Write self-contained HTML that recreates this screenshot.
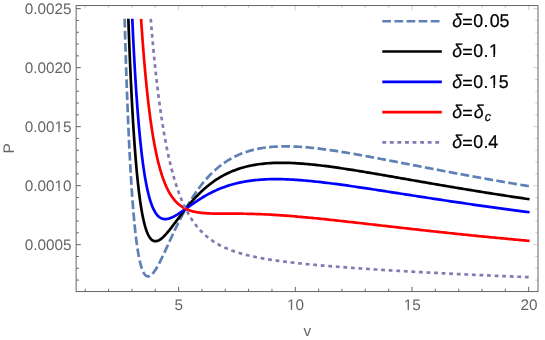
<!DOCTYPE html>
<html><head><meta charset="utf-8"><title>P-v isotherms</title>
<style>html,body{margin:0;padding:0;background:#fff}svg{display:block;will-change:transform}text{font-family:"Liberation Sans",sans-serif;text-rendering:geometricPrecision;font-kerning:none}</style></head><body>
<svg width="545" height="340" viewBox="0 0 545 340">
<rect width="545" height="340" fill="#fff"/>
<path d="M124.64,18.80 L124.94,29.37 L125.24,39.56 L125.54,49.40 L125.83,58.88 L126.13,68.03 L126.43,76.85 L126.73,85.35 L127.03,93.55 L127.33,101.46 L127.62,109.07 L127.92,116.42 L128.22,123.50 L128.52,130.31 L128.82,136.88 L129.12,143.21 L129.42,149.31 L129.71,155.18 L130.01,160.83 L130.31,166.27 L130.61,171.51 L130.91,176.55 L131.21,181.39 L131.50,186.06 L131.80,190.54 L132.10,194.85 L132.40,199.00 L132.70,202.98 L133.00,206.80 L133.29,210.48 L133.59,214.00 L133.89,217.39 L134.19,220.63 L134.49,223.74 L134.79,226.73 L135.09,229.59 L135.38,232.33 L135.68,234.95 L135.98,237.46 L136.28,239.86 L136.58,242.15 L136.88,244.34 L137.17,246.43 L137.47,248.43 L137.77,250.33 L138.07,252.14 L138.37,253.87 L138.67,255.51 L138.97,257.07 L139.26,258.55 L139.56,259.95 L139.86,261.28 L140.16,262.54 L140.46,263.73 L140.76,264.85 L141.05,265.90 L141.35,266.90 L141.65,267.83 L141.95,268.71 L142.25,269.52 L142.55,270.29 L142.85,270.99 L143.14,271.65 L143.44,272.26 L143.74,272.82 L144.04,273.33 L144.34,273.80 L144.64,274.22 L144.93,274.60 L145.23,274.94 L145.53,275.25 L145.83,275.51 L146.13,275.74 L146.43,275.93 L146.73,276.08 L147.02,276.21 L147.32,276.30 L147.62,276.36 L147.92,276.39 L148.22,276.39 L148.52,276.36 L148.81,276.31 L149.11,276.23 L149.41,276.12 L149.71,275.99 L150.01,275.84 L150.31,275.66 L150.61,275.47 L150.90,275.25 L151.20,275.01 L151.50,274.75 L151.80,274.47 L152.10,274.18 L152.40,273.87 L152.69,273.54 L152.99,273.19 L153.29,272.83 L153.59,272.45 L153.89,272.06 L154.19,271.66 L154.49,271.24 L154.78,270.81 L155.08,270.37 L155.38,269.91 L155.68,269.45 L155.98,268.97 L156.28,268.48 L156.57,267.99 L156.87,267.48 L157.17,266.97 L157.47,266.44 L157.77,265.91 L158.07,265.37 L158.37,264.82 L158.66,264.27 L158.96,263.70 L159.26,263.13 L159.56,262.56 L159.86,261.98 L160.16,261.39 L160.45,260.80 L160.75,260.20 L161.05,259.60 L161.35,259.00 L161.65,258.39 L161.95,257.77 L162.25,257.15 L162.54,256.53 L162.84,255.91 L163.14,255.28 L163.44,254.65 L163.74,254.02 L164.04,253.38 L164.33,252.75 L164.63,252.11 L164.93,251.46 L165.23,250.82 L165.53,250.18 L165.83,249.53 L166.13,248.88 L166.42,248.24 L166.72,247.59 L167.02,246.94 L167.32,246.29 L167.62,245.64 L167.92,244.99 L168.21,244.34 L168.51,243.69 L168.81,243.03 L169.11,242.38 L169.41,241.73 L169.71,241.08 L170.01,240.44 L170.30,239.79 L170.60,239.14 L170.90,238.49 L171.20,237.85 L171.50,237.20 L171.80,236.56 L172.09,235.92 L172.39,235.27 L172.69,234.63 L172.99,234.00 L173.29,233.36 L173.59,232.72 L173.89,232.09 L174.18,231.46 L174.48,230.83 L174.78,230.20 L175.08,229.57 L175.38,228.95 L175.68,228.33 L175.97,227.71 L176.27,227.09 L176.57,226.47 L176.87,225.86 L177.17,225.25 L177.47,224.64 L177.77,224.03 L178.06,223.43 L178.36,222.82 L178.66,222.23 L178.96,221.63 L179.26,221.03 L179.56,220.44 L179.85,219.85 L180.15,219.26 L180.45,218.68 L180.75,218.10 L181.05,217.52 L181.35,216.94 L181.64,216.37 L181.94,215.80 L182.24,215.23 L182.54,214.67 L182.84,214.10 L183.14,213.54 L183.44,212.99 L183.73,212.43 L184.03,211.88 L184.33,211.33 L184.63,210.79 L184.93,210.25 L185.23,209.71 L185.52,209.17 L185.82,208.64 L186.12,208.10 L186.42,207.58 L186.72,207.05 L187.02,206.53 L187.32,206.01 L187.61,205.50 L187.91,204.98 L188.21,204.47 L188.51,203.97 L188.81,203.46 L189.11,202.96 L189.40,202.46 L189.70,201.97 L190.00,201.48 L190.30,200.99 L190.60,200.50 L190.90,200.02 L191.20,199.54 L191.49,199.06 L191.79,198.59 L192.09,198.11 L192.39,197.65 L192.69,197.18 L192.99,196.72 L193.28,196.26 L193.58,195.80 L193.88,195.35 L194.18,194.90 L194.48,194.45 L194.78,194.01 L195.08,193.56 L195.37,193.13 L195.67,192.69 L195.97,192.26 L196.27,191.83 L196.57,191.40 L196.87,190.98 L197.16,190.55 L197.46,190.14 L197.76,189.72 L198.06,189.31 L198.36,188.90 L198.66,188.49 L198.96,188.08 L199.25,187.68 L199.55,187.28 L199.85,186.89 L200.15,186.49 L200.45,186.10 L200.75,185.72 L201.04,185.33 L201.34,184.95 L201.64,184.57 L201.94,184.19 L203.77,181.94 L205.60,179.79 L207.43,177.73 L209.26,175.77 L211.09,173.90 L212.92,172.11 L214.75,170.41 L216.58,168.80 L218.42,167.26 L220.25,165.80 L222.08,164.42 L223.91,163.10 L225.74,161.86 L227.57,160.68 L229.40,159.57 L231.23,158.51 L233.06,157.52 L234.89,156.58 L236.72,155.70 L238.55,154.87 L240.38,154.09 L242.21,153.36 L244.04,152.68 L245.87,152.04 L247.70,151.44 L249.53,150.89 L251.37,150.37 L253.20,149.89 L255.03,149.45 L256.86,149.05 L258.69,148.68 L260.52,148.34 L262.35,148.03 L264.18,147.75 L266.01,147.50 L267.84,147.28 L269.67,147.08 L271.50,146.91 L273.33,146.76 L275.16,146.64 L276.99,146.54 L278.82,146.46 L280.65,146.40 L282.48,146.36 L284.32,146.34 L286.15,146.33 L287.98,146.35 L289.81,146.38 L291.64,146.42 L293.47,146.48 L295.30,146.56 L297.13,146.65 L298.96,146.75 L300.79,146.87 L302.62,147.00 L304.45,147.14 L306.28,147.29 L308.11,147.45 L309.94,147.62 L311.77,147.81 L313.60,148.00 L315.43,148.20 L317.27,148.41 L319.10,148.63 L320.93,148.85 L322.76,149.08 L324.59,149.32 L326.42,149.57 L328.25,149.82 L330.08,150.08 L331.91,150.35 L333.74,150.62 L335.57,150.90 L337.40,151.18 L339.23,151.47 L341.06,151.76 L342.89,152.05 L344.72,152.35 L346.55,152.66 L348.38,152.96 L350.22,153.27 L352.05,153.59 L353.88,153.91 L355.71,154.23 L357.54,154.55 L359.37,154.88 L361.20,155.21 L363.03,155.54 L364.86,155.87 L366.69,156.21 L368.52,156.55 L370.35,156.89 L372.18,157.23 L374.01,157.57 L375.84,157.91 L377.67,158.26 L379.50,158.61 L381.33,158.96 L383.17,159.30 L385.00,159.66 L386.83,160.01 L388.66,160.36 L390.49,160.71 L392.32,161.06 L394.15,161.42 L395.98,161.77 L397.81,162.13 L399.64,162.48 L401.47,162.84 L403.30,163.20 L405.13,163.55 L406.96,163.91 L408.79,164.26 L410.62,164.62 L412.45,164.98 L414.28,165.33 L416.12,165.69 L417.95,166.04 L419.78,166.40 L421.61,166.75 L423.44,167.11 L425.27,167.46 L427.10,167.82 L428.93,168.17 L430.76,168.52 L432.59,168.87 L434.42,169.23 L436.25,169.58 L438.08,169.93 L439.91,170.28 L441.74,170.63 L443.57,170.98 L445.40,171.32 L447.24,171.67 L449.07,172.02 L450.90,172.36 L452.73,172.71 L454.56,173.05 L456.39,173.40 L458.22,173.74 L460.05,174.08 L461.88,174.42 L463.71,174.76 L465.54,175.10 L467.37,175.44 L469.20,175.77 L471.03,176.11 L472.86,176.44 L474.69,176.78 L476.52,177.11 L478.35,177.44 L480.19,177.77 L482.02,178.10 L483.85,178.43 L485.68,178.76 L487.51,179.08 L489.34,179.41 L491.17,179.73 L493.00,180.06 L494.83,180.38 L496.66,180.70 L498.49,181.02 L500.32,181.34 L502.15,181.66 L503.98,181.97 L505.81,182.29 L507.64,182.60 L509.47,182.92 L511.30,183.23 L513.14,183.54 L514.97,183.85 L516.80,184.16 L518.63,184.46 L520.46,184.77 L522.29,185.08 L524.12,185.38 L525.95,185.68 L527.78,185.98 L529.61,186.29" fill="none" stroke="#5E81B5" stroke-width="2.7" stroke-linejoin="round" stroke-dasharray="8.71 3.405"/>
<path d="M128.34,18.80 L128.62,26.64 L128.91,34.24 L129.19,41.61 L129.48,48.74 L129.76,55.66 L130.04,62.35 L130.33,68.84 L130.61,75.12 L130.90,81.21 L131.18,87.10 L131.46,92.81 L131.75,98.34 L132.03,103.70 L132.32,108.88 L132.60,113.90 L132.89,118.76 L133.17,123.47 L133.45,128.02 L133.74,132.43 L134.02,136.70 L134.31,140.83 L134.59,144.82 L134.87,148.69 L135.16,152.43 L135.44,156.05 L135.73,159.54 L136.01,162.93 L136.30,166.20 L136.58,169.36 L136.86,172.42 L137.15,175.37 L137.43,178.22 L137.72,180.98 L138.00,183.64 L138.28,186.21 L138.57,188.70 L138.85,191.09 L139.14,193.41 L139.42,195.64 L139.71,197.79 L139.99,199.87 L140.27,201.87 L140.56,203.80 L140.84,205.66 L141.13,207.45 L141.41,209.17 L141.69,210.83 L141.98,212.43 L142.26,213.96 L142.55,215.44 L142.83,216.86 L143.12,218.22 L143.40,219.53 L143.68,220.79 L143.97,221.99 L144.25,223.15 L144.54,224.25 L144.82,225.31 L145.11,226.33 L145.39,227.30 L145.67,228.23 L145.96,229.11 L146.24,229.96 L146.53,230.76 L146.81,231.53 L147.09,232.26 L147.38,232.95 L147.66,233.61 L147.95,234.23 L148.23,234.82 L148.52,235.38 L148.80,235.91 L149.08,236.41 L149.37,236.88 L149.65,237.32 L149.94,237.73 L150.22,238.11 L150.50,238.47 L150.79,238.80 L151.07,239.11 L151.36,239.40 L151.64,239.66 L151.93,239.90 L152.21,240.11 L152.49,240.31 L152.78,240.48 L153.06,240.64 L153.35,240.77 L153.63,240.89 L153.91,240.99 L154.20,241.07 L154.48,241.13 L154.77,241.18 L155.05,241.21 L155.34,241.22 L155.62,241.22 L155.90,241.21 L156.19,241.18 L156.47,241.14 L156.76,241.08 L157.04,241.01 L157.32,240.93 L157.61,240.84 L157.89,240.73 L158.18,240.61 L158.46,240.49 L158.75,240.35 L159.03,240.20 L159.31,240.04 L159.60,239.87 L159.88,239.69 L160.17,239.50 L160.45,239.31 L160.73,239.11 L161.02,238.89 L161.30,238.67 L161.59,238.44 L161.87,238.21 L162.16,237.97 L162.44,237.72 L162.72,237.46 L163.01,237.20 L163.29,236.93 L163.58,236.66 L163.86,236.38 L164.14,236.10 L164.43,235.81 L164.71,235.51 L165.00,235.21 L165.28,234.91 L165.57,234.60 L165.85,234.29 L166.13,233.97 L166.42,233.65 L166.70,233.32 L166.99,232.99 L167.27,232.66 L167.55,232.33 L167.84,231.99 L168.12,231.65 L168.41,231.30 L168.69,230.96 L168.98,230.61 L169.26,230.26 L169.54,229.90 L169.83,229.55 L170.11,229.19 L170.40,228.83 L170.68,228.47 L170.96,228.10 L171.25,227.74 L171.53,227.37 L171.82,227.00 L172.10,226.63 L172.39,226.26 L172.67,225.89 L172.95,225.52 L173.24,225.14 L173.52,224.77 L173.81,224.40 L174.09,224.02 L174.38,223.64 L174.66,223.27 L174.94,222.89 L175.23,222.51 L175.51,222.13 L175.80,221.76 L176.08,221.38 L176.36,221.00 L176.65,220.62 L176.93,220.24 L177.22,219.86 L177.50,219.49 L177.79,219.11 L178.07,218.73 L178.35,218.35 L178.64,217.98 L178.92,217.60 L179.21,217.22 L179.49,216.85 L179.77,216.47 L180.06,216.10 L180.34,215.72 L180.63,215.35 L180.91,214.98 L181.20,214.61 L181.48,214.24 L181.76,213.87 L182.05,213.50 L182.33,213.13 L182.62,212.76 L182.90,212.39 L183.18,212.03 L183.47,211.67 L183.75,211.30 L184.04,210.94 L184.32,210.58 L184.61,210.22 L184.89,209.86 L185.17,209.50 L185.46,209.15 L185.74,208.79 L186.03,208.44 L186.31,208.08 L186.59,207.73 L186.88,207.38 L187.16,207.04 L187.45,206.69 L187.73,206.34 L188.02,206.00 L188.30,205.65 L188.58,205.31 L188.87,204.97 L189.15,204.63 L189.44,204.30 L189.72,203.96 L190.00,203.63 L190.29,203.29 L190.57,202.96 L190.86,202.63 L191.14,202.30 L191.43,201.98 L191.71,201.65 L191.99,201.33 L192.28,201.01 L192.56,200.69 L192.85,200.37 L193.13,200.05 L193.41,199.73 L193.70,199.42 L193.98,199.11 L194.27,198.80 L194.55,198.49 L194.84,198.18 L195.12,197.87 L195.40,197.57 L195.69,197.27 L195.97,196.97 L196.26,196.67 L196.54,196.37 L196.82,196.07 L197.11,195.78 L197.39,195.49 L197.68,195.19 L197.96,194.90 L198.25,194.62 L198.53,194.33 L198.81,194.05 L199.10,193.76 L199.38,193.48 L199.67,193.20 L199.95,192.92 L200.23,192.65 L200.52,192.37 L200.80,192.10 L201.09,191.83 L201.37,191.56 L201.66,191.29 L201.94,191.03 L203.77,189.35 L205.60,187.74 L207.43,186.20 L209.26,184.73 L211.09,183.31 L212.92,181.97 L214.75,180.68 L216.58,179.46 L218.42,178.29 L220.25,177.18 L222.08,176.12 L223.91,175.12 L225.74,174.18 L227.57,173.28 L229.40,172.43 L231.23,171.63 L233.06,170.87 L234.89,170.16 L236.72,169.49 L238.55,168.86 L240.38,168.27 L242.21,167.72 L244.04,167.20 L245.87,166.72 L247.70,166.27 L249.53,165.86 L251.37,165.48 L253.20,165.13 L255.03,164.81 L256.86,164.51 L258.69,164.24 L260.52,164.00 L262.35,163.79 L264.18,163.59 L266.01,163.42 L267.84,163.27 L269.67,163.15 L271.50,163.04 L273.33,162.95 L275.16,162.89 L276.99,162.84 L278.82,162.80 L280.65,162.79 L282.48,162.79 L284.32,162.80 L286.15,162.83 L287.98,162.88 L289.81,162.93 L291.64,163.00 L293.47,163.09 L295.30,163.18 L297.13,163.29 L298.96,163.40 L300.79,163.53 L302.62,163.67 L304.45,163.81 L306.28,163.97 L308.11,164.13 L309.94,164.31 L311.77,164.49 L313.60,164.68 L315.43,164.87 L317.27,165.07 L319.10,165.28 L320.93,165.50 L322.76,165.72 L324.59,165.95 L326.42,166.18 L328.25,166.42 L330.08,166.67 L331.91,166.92 L333.74,167.17 L335.57,167.43 L337.40,167.69 L339.23,167.96 L341.06,168.23 L342.89,168.50 L344.72,168.78 L346.55,169.06 L348.38,169.34 L350.22,169.62 L352.05,169.91 L353.88,170.20 L355.71,170.50 L357.54,170.79 L359.37,171.09 L361.20,171.39 L363.03,171.69 L364.86,172.00 L366.69,172.30 L368.52,172.61 L370.35,172.92 L372.18,173.23 L374.01,173.54 L375.84,173.85 L377.67,174.17 L379.50,174.48 L381.33,174.79 L383.17,175.11 L385.00,175.43 L386.83,175.74 L388.66,176.06 L390.49,176.38 L392.32,176.70 L394.15,177.02 L395.98,177.34 L397.81,177.66 L399.64,177.98 L401.47,178.30 L403.30,178.62 L405.13,178.94 L406.96,179.26 L408.79,179.58 L410.62,179.90 L412.45,180.22 L414.28,180.54 L416.12,180.86 L417.95,181.18 L419.78,181.50 L421.61,181.82 L423.44,182.13 L425.27,182.45 L427.10,182.77 L428.93,183.09 L430.76,183.40 L432.59,183.72 L434.42,184.03 L436.25,184.35 L438.08,184.66 L439.91,184.98 L441.74,185.29 L443.57,185.60 L445.40,185.91 L447.24,186.22 L449.07,186.53 L450.90,186.84 L452.73,187.15 L454.56,187.46 L456.39,187.77 L458.22,188.07 L460.05,188.38 L461.88,188.68 L463.71,188.99 L465.54,189.29 L467.37,189.59 L469.20,189.89 L471.03,190.19 L472.86,190.49 L474.69,190.79 L476.52,191.09 L478.35,191.38 L480.19,191.68 L482.02,191.97 L483.85,192.26 L485.68,192.56 L487.51,192.85 L489.34,193.14 L491.17,193.43 L493.00,193.72 L494.83,194.00 L496.66,194.29 L498.49,194.58 L500.32,194.86 L502.15,195.14 L503.98,195.43 L505.81,195.71 L507.64,195.99 L509.47,196.27 L511.30,196.55 L513.14,196.82 L514.97,197.10 L516.80,197.38 L518.63,197.65 L520.46,197.92 L522.29,198.20 L524.12,198.47 L525.95,198.74 L527.78,199.01 L529.61,199.27" fill="none" stroke="#000000" stroke-width="2.7" stroke-linejoin="round"/>
<path d="M132.27,18.80 L132.54,24.71 L132.81,30.45 L133.07,36.05 L133.34,41.49 L133.61,46.79 L133.88,51.94 L134.15,56.96 L134.42,61.84 L134.69,66.59 L134.96,71.21 L135.23,75.71 L135.50,80.09 L135.77,84.35 L136.03,88.49 L136.30,92.52 L136.57,96.44 L136.84,100.26 L137.11,103.97 L137.38,107.58 L137.65,111.10 L137.92,114.52 L138.19,117.84 L138.46,121.07 L138.72,124.22 L138.99,127.28 L139.26,130.26 L139.53,133.15 L139.80,135.96 L140.07,138.70 L140.34,141.36 L140.61,143.95 L140.88,146.46 L141.15,148.91 L141.41,151.29 L141.68,153.60 L141.95,155.84 L142.22,158.03 L142.49,160.15 L142.76,162.21 L143.03,164.21 L143.30,166.16 L143.57,168.05 L143.84,169.88 L144.10,171.66 L144.37,173.39 L144.64,175.07 L144.91,176.71 L145.18,178.29 L145.45,179.83 L145.72,181.32 L145.99,182.77 L146.26,184.17 L146.53,185.54 L146.79,186.86 L147.06,188.14 L147.33,189.38 L147.60,190.59 L147.87,191.75 L148.14,192.88 L148.41,193.98 L148.68,195.04 L148.95,196.07 L149.22,197.06 L149.48,198.03 L149.75,198.96 L150.02,199.86 L150.29,200.74 L150.56,201.58 L150.83,202.39 L151.10,203.18 L151.37,203.94 L151.64,204.68 L151.91,205.39 L152.17,206.07 L152.44,206.73 L152.71,207.37 L152.98,207.99 L153.25,208.58 L153.52,209.15 L153.79,209.70 L154.06,210.23 L154.33,210.73 L154.60,211.22 L154.86,211.69 L155.13,212.14 L155.40,212.57 L155.67,212.99 L155.94,213.38 L156.21,213.76 L156.48,214.12 L156.75,214.47 L157.02,214.80 L157.29,215.12 L157.55,215.42 L157.82,215.71 L158.09,215.98 L158.36,216.24 L158.63,216.48 L158.90,216.71 L159.17,216.93 L159.44,217.14 L159.71,217.33 L159.98,217.52 L160.24,217.69 L160.51,217.85 L160.78,218.00 L161.05,218.13 L161.32,218.26 L161.59,218.38 L161.86,218.49 L162.13,218.59 L162.40,218.67 L162.67,218.75 L162.93,218.83 L163.20,218.89 L163.47,218.94 L163.74,218.99 L164.01,219.03 L164.28,219.06 L164.55,219.08 L164.82,219.09 L165.09,219.10 L165.36,219.10 L165.62,219.10 L165.89,219.09 L166.16,219.07 L166.43,219.04 L166.70,219.01 L166.97,218.98 L167.24,218.94 L167.51,218.89 L167.78,218.84 L168.05,218.78 L168.31,218.71 L168.58,218.65 L168.85,218.57 L169.12,218.50 L169.39,218.41 L169.66,218.33 L169.93,218.24 L170.20,218.14 L170.47,218.04 L170.74,217.94 L171.00,217.84 L171.27,217.73 L171.54,217.61 L171.81,217.50 L172.08,217.38 L172.35,217.25 L172.62,217.13 L172.89,217.00 L173.16,216.86 L173.43,216.73 L173.69,216.59 L173.96,216.45 L174.23,216.31 L174.50,216.16 L174.77,216.02 L175.04,215.87 L175.31,215.71 L175.58,215.56 L175.85,215.40 L176.12,215.25 L176.38,215.09 L176.65,214.92 L176.92,214.76 L177.19,214.59 L177.46,214.43 L177.73,214.26 L178.00,214.09 L178.27,213.92 L178.54,213.74 L178.81,213.57 L179.07,213.40 L179.34,213.22 L179.61,213.04 L179.88,212.86 L180.15,212.68 L180.42,212.50 L180.69,212.32 L180.96,212.14 L181.23,211.96 L181.50,211.77 L181.76,211.59 L182.03,211.40 L182.30,211.22 L182.57,211.03 L182.84,210.84 L183.11,210.66 L183.38,210.47 L183.65,210.28 L183.92,210.09 L184.19,209.90 L184.45,209.71 L184.72,209.52 L184.99,209.33 L185.26,209.14 L185.53,208.95 L185.80,208.76 L186.07,208.57 L186.34,208.38 L186.61,208.19 L186.88,208.00 L187.14,207.81 L187.41,207.62 L187.68,207.42 L187.95,207.23 L188.22,207.04 L188.49,206.85 L188.76,206.66 L189.03,206.47 L189.30,206.28 L189.57,206.09 L189.83,205.90 L190.10,205.71 L190.37,205.52 L190.64,205.33 L190.91,205.15 L191.18,204.96 L191.45,204.77 L191.72,204.58 L191.99,204.40 L192.26,204.21 L192.52,204.02 L192.79,203.84 L193.06,203.65 L193.33,203.47 L193.60,203.28 L193.87,203.10 L194.14,202.91 L194.41,202.73 L194.68,202.55 L194.95,202.37 L195.21,202.18 L195.48,202.00 L195.75,201.82 L196.02,201.64 L196.29,201.47 L196.56,201.29 L196.83,201.11 L197.10,200.93 L197.37,200.76 L197.64,200.58 L197.90,200.40 L198.17,200.23 L198.44,200.06 L198.71,199.88 L198.98,199.71 L199.25,199.54 L199.52,199.37 L199.79,199.20 L200.06,199.03 L200.33,198.86 L200.59,198.69 L200.86,198.52 L201.13,198.35 L201.40,198.19 L201.67,198.02 L201.94,197.86 L203.77,196.76 L205.60,195.70 L207.43,194.67 L209.26,193.68 L211.09,192.73 L212.92,191.82 L214.75,190.95 L216.58,190.11 L218.42,189.32 L220.25,188.56 L222.08,187.83 L223.91,187.14 L225.74,186.49 L227.57,185.87 L229.40,185.29 L231.23,184.74 L233.06,184.22 L234.89,183.73 L236.72,183.27 L238.55,182.84 L240.38,182.44 L242.21,182.07 L244.04,181.72 L245.87,181.40 L247.70,181.11 L249.53,180.84 L251.37,180.59 L253.20,180.36 L255.03,180.16 L256.86,179.97 L258.69,179.81 L260.52,179.67 L262.35,179.54 L264.18,179.43 L266.01,179.35 L267.84,179.27 L269.67,179.22 L271.50,179.17 L273.33,179.15 L275.16,179.13 L276.99,179.14 L278.82,179.15 L280.65,179.18 L282.48,179.22 L284.32,179.27 L286.15,179.33 L287.98,179.41 L289.81,179.49 L291.64,179.58 L293.47,179.69 L295.30,179.80 L297.13,179.92 L298.96,180.05 L300.79,180.19 L302.62,180.33 L304.45,180.49 L306.28,180.65 L308.11,180.81 L309.94,180.99 L311.77,181.17 L313.60,181.35 L315.43,181.54 L317.27,181.74 L319.10,181.94 L320.93,182.15 L322.76,182.36 L324.59,182.58 L326.42,182.80 L328.25,183.02 L330.08,183.25 L331.91,183.48 L333.74,183.72 L335.57,183.96 L337.40,184.20 L339.23,184.45 L341.06,184.69 L342.89,184.95 L344.72,185.20 L346.55,185.46 L348.38,185.71 L350.22,185.97 L352.05,186.24 L353.88,186.50 L355.71,186.77 L357.54,187.04 L359.37,187.31 L361.20,187.58 L363.03,187.85 L364.86,188.12 L366.69,188.40 L368.52,188.67 L370.35,188.95 L372.18,189.23 L374.01,189.51 L375.84,189.79 L377.67,190.07 L379.50,190.35 L381.33,190.63 L383.17,190.92 L385.00,191.20 L386.83,191.48 L388.66,191.77 L390.49,192.05 L392.32,192.33 L394.15,192.62 L395.98,192.90 L397.81,193.19 L399.64,193.47 L401.47,193.76 L403.30,194.04 L405.13,194.33 L406.96,194.61 L408.79,194.90 L410.62,195.18 L412.45,195.46 L414.28,195.75 L416.12,196.03 L417.95,196.31 L419.78,196.60 L421.61,196.88 L423.44,197.16 L425.27,197.44 L427.10,197.72 L428.93,198.00 L430.76,198.28 L432.59,198.56 L434.42,198.84 L436.25,199.12 L438.08,199.40 L439.91,199.67 L441.74,199.95 L443.57,200.23 L445.40,200.50 L447.24,200.78 L449.07,201.05 L450.90,201.32 L452.73,201.59 L454.56,201.87 L456.39,202.14 L458.22,202.41 L460.05,202.68 L461.88,202.94 L463.71,203.21 L465.54,203.48 L467.37,203.74 L469.20,204.01 L471.03,204.27 L472.86,204.54 L474.69,204.80 L476.52,205.06 L478.35,205.32 L480.19,205.58 L482.02,205.84 L483.85,206.10 L485.68,206.36 L487.51,206.61 L489.34,206.87 L491.17,207.12 L493.00,207.38 L494.83,207.63 L496.66,207.88 L498.49,208.13 L500.32,208.38 L502.15,208.63 L503.98,208.88 L505.81,209.13 L507.64,209.38 L509.47,209.62 L511.30,209.87 L513.14,210.11 L514.97,210.35 L516.80,210.60 L518.63,210.84 L520.46,211.08 L522.29,211.32 L524.12,211.55 L525.95,211.79 L527.78,212.03 L529.61,212.26" fill="none" stroke="#0000FF" stroke-width="2.7" stroke-linejoin="round"/>
<path d="M141.09,18.80 L141.32,22.34 L141.56,25.81 L141.79,29.21 L142.03,32.55 L142.26,35.84 L142.50,39.05 L142.73,42.21 L142.97,45.32 L143.20,48.36 L143.44,51.35 L143.67,54.28 L143.91,57.16 L144.14,59.99 L144.38,62.76 L144.61,65.48 L144.85,68.16 L145.08,70.78 L145.32,73.36 L145.55,75.89 L145.79,78.37 L146.02,80.81 L146.26,83.20 L146.49,85.55 L146.73,87.86 L146.96,90.13 L147.20,92.35 L147.43,94.54 L147.67,96.68 L147.90,98.79 L148.14,100.85 L148.37,102.89 L148.61,104.88 L148.84,106.84 L149.08,108.76 L149.31,110.65 L149.55,112.51 L149.78,114.33 L150.02,116.12 L150.25,117.87 L150.49,119.60 L150.72,121.29 L150.96,122.96 L151.19,124.59 L151.42,126.20 L151.66,127.78 L151.89,129.32 L152.13,130.85 L152.36,132.34 L152.60,133.81 L152.83,135.25 L153.07,136.67 L153.30,138.06 L153.54,139.42 L153.77,140.77 L154.01,142.08 L154.24,143.38 L154.48,144.65 L154.71,145.90 L154.95,147.13 L155.18,148.33 L155.42,149.52 L155.65,150.68 L155.89,151.83 L156.12,152.95 L156.36,154.05 L156.59,155.14 L156.83,156.20 L157.06,157.25 L157.30,158.28 L157.53,159.29 L157.77,160.28 L158.00,161.25 L158.24,162.21 L158.47,163.15 L158.71,164.07 L158.94,164.98 L159.18,165.87 L159.41,166.75 L159.65,167.61 L159.88,168.46 L160.12,169.29 L160.35,170.10 L160.59,170.91 L160.82,171.69 L161.06,172.47 L161.29,173.23 L161.53,173.98 L161.76,174.71 L162.00,175.43 L162.23,176.14 L162.47,176.84 L162.70,177.52 L162.94,178.19 L163.17,178.85 L163.41,179.50 L163.64,180.14 L163.88,180.77 L164.11,181.38 L164.35,181.99 L164.58,182.58 L164.82,183.16 L165.05,183.74 L165.29,184.30 L165.52,184.85 L165.76,185.40 L165.99,185.93 L166.23,186.46 L166.46,186.97 L166.70,187.48 L166.93,187.97 L167.17,188.46 L167.40,188.94 L167.64,189.41 L167.87,189.88 L168.11,190.33 L168.34,190.78 L168.58,191.22 L168.81,191.65 L169.05,192.07 L169.28,192.49 L169.52,192.90 L169.75,193.30 L169.99,193.70 L170.22,194.08 L170.46,194.46 L170.69,194.84 L170.93,195.21 L171.16,195.57 L171.40,195.92 L171.63,196.27 L171.87,196.61 L172.10,196.95 L172.34,197.28 L172.57,197.60 L172.81,197.92 L173.04,198.23 L173.28,198.54 L173.51,198.84 L173.75,199.14 L173.98,199.43 L174.22,199.71 L174.45,199.99 L174.69,200.27 L174.92,200.54 L175.16,200.80 L175.39,201.06 L175.63,201.32 L175.86,201.57 L176.10,201.82 L176.33,202.06 L176.57,202.30 L176.80,202.53 L177.03,202.76 L177.27,202.98 L177.50,203.21 L177.74,203.42 L177.97,203.64 L178.21,203.84 L178.44,204.05 L178.68,204.25 L178.91,204.45 L179.15,204.64 L179.38,204.83 L179.62,205.02 L179.85,205.20 L180.09,205.38 L180.32,205.56 L180.56,205.73 L180.79,205.90 L181.03,206.07 L181.26,206.23 L181.50,206.40 L181.73,206.55 L181.97,206.71 L182.20,206.86 L182.44,207.01 L182.67,207.15 L182.91,207.30 L183.14,207.44 L183.38,207.58 L183.61,207.71 L183.85,207.84 L184.08,207.97 L184.32,208.10 L184.55,208.23 L184.79,208.35 L185.02,208.47 L185.26,208.59 L185.49,208.70 L185.73,208.82 L185.96,208.93 L186.20,209.04 L186.43,209.15 L186.67,209.25 L186.90,209.35 L187.14,209.45 L187.37,209.55 L187.61,209.65 L187.84,209.74 L188.08,209.84 L188.31,209.93 L188.55,210.02 L188.78,210.11 L189.02,210.19 L189.25,210.28 L189.49,210.36 L189.72,210.44 L189.96,210.52 L190.19,210.59 L190.43,210.67 L190.66,210.74 L190.90,210.82 L191.13,210.89 L191.37,210.96 L191.60,211.03 L191.84,211.09 L192.07,211.16 L192.31,211.22 L192.54,211.28 L192.78,211.35 L193.01,211.41 L193.25,211.46 L193.48,211.52 L193.72,211.58 L193.95,211.63 L194.19,211.69 L194.42,211.74 L194.66,211.79 L194.89,211.84 L195.13,211.89 L195.36,211.94 L195.60,211.98 L195.83,212.03 L196.07,212.08 L196.30,212.12 L196.54,212.16 L196.77,212.20 L197.01,212.25 L197.24,212.29 L197.48,212.32 L197.71,212.36 L197.95,212.40 L198.18,212.44 L198.42,212.47 L198.65,212.51 L198.89,212.54 L199.12,212.57 L199.36,212.61 L199.59,212.64 L199.83,212.67 L200.06,212.70 L200.30,212.73 L200.53,212.76 L200.77,212.78 L201.00,212.81 L201.24,212.84 L201.47,212.86 L201.71,212.89 L201.94,212.91 L203.77,213.08 L205.60,213.22 L207.43,213.33 L209.26,213.42 L211.09,213.48 L212.92,213.53 L214.75,213.57 L216.58,213.59 L218.42,213.61 L220.25,213.62 L222.08,213.63 L223.91,213.63 L225.74,213.63 L227.57,213.63 L229.40,213.63 L231.23,213.63 L233.06,213.64 L234.89,213.64 L236.72,213.65 L238.55,213.66 L240.38,213.68 L242.21,213.70 L244.04,213.73 L245.87,213.76 L247.70,213.79 L249.53,213.83 L251.37,213.88 L253.20,213.93 L255.03,213.98 L256.86,214.05 L258.69,214.11 L260.52,214.18 L262.35,214.26 L264.18,214.34 L266.01,214.43 L267.84,214.52 L269.67,214.62 L271.50,214.72 L273.33,214.83 L275.16,214.94 L276.99,215.05 L278.82,215.17 L280.65,215.29 L282.48,215.42 L284.32,215.55 L286.15,215.69 L287.98,215.83 L289.81,215.97 L291.64,216.12 L293.47,216.27 L295.30,216.42 L297.13,216.58 L298.96,216.73 L300.79,216.90 L302.62,217.06 L304.45,217.23 L306.28,217.40 L308.11,217.57 L309.94,217.74 L311.77,217.92 L313.60,218.10 L315.43,218.28 L317.27,218.46 L319.10,218.65 L320.93,218.84 L322.76,219.02 L324.59,219.21 L326.42,219.41 L328.25,219.60 L330.08,219.79 L331.91,219.99 L333.74,220.18 L335.57,220.38 L337.40,220.58 L339.23,220.78 L341.06,220.98 L342.89,221.18 L344.72,221.39 L346.55,221.59 L348.38,221.79 L350.22,222.00 L352.05,222.20 L353.88,222.41 L355.71,222.62 L357.54,222.82 L359.37,223.03 L361.20,223.24 L363.03,223.45 L364.86,223.65 L366.69,223.86 L368.52,224.07 L370.35,224.28 L372.18,224.49 L374.01,224.70 L375.84,224.91 L377.67,225.12 L379.50,225.32 L381.33,225.53 L383.17,225.74 L385.00,225.95 L386.83,226.16 L388.66,226.37 L390.49,226.58 L392.32,226.78 L394.15,226.99 L395.98,227.20 L397.81,227.41 L399.64,227.61 L401.47,227.82 L403.30,228.03 L405.13,228.23 L406.96,228.44 L408.79,228.64 L410.62,228.85 L412.45,229.05 L414.28,229.26 L416.12,229.46 L417.95,229.66 L419.78,229.87 L421.61,230.07 L423.44,230.27 L425.27,230.47 L427.10,230.67 L428.93,230.87 L430.76,231.07 L432.59,231.27 L434.42,231.47 L436.25,231.67 L438.08,231.86 L439.91,232.06 L441.74,232.25 L443.57,232.45 L445.40,232.64 L447.24,232.84 L449.07,233.03 L450.90,233.23 L452.73,233.42 L454.56,233.61 L456.39,233.80 L458.22,233.99 L460.05,234.18 L461.88,234.37 L463.71,234.56 L465.54,234.74 L467.37,234.93 L469.20,235.12 L471.03,235.30 L472.86,235.49 L474.69,235.67 L476.52,235.86 L478.35,236.04 L480.19,236.22 L482.02,236.40 L483.85,236.58 L485.68,236.76 L487.51,236.94 L489.34,237.12 L491.17,237.30 L493.00,237.48 L494.83,237.66 L496.66,237.83 L498.49,238.01 L500.32,238.18 L502.15,238.36 L503.98,238.53 L505.81,238.70 L507.64,238.87 L509.47,239.04 L511.30,239.21 L513.14,239.38 L514.97,239.55 L516.80,239.72 L518.63,239.89 L520.46,240.06 L522.29,240.22 L524.12,240.39 L525.95,240.55 L527.78,240.72 L529.61,240.88" fill="none" stroke="#FF0000" stroke-width="2.7" stroke-linejoin="round"/>
<path d="M150.72,18.80 L150.92,21.23 L151.12,23.64 L151.32,26.02 L151.51,28.36 L151.71,30.68 L151.91,32.97 L152.11,35.24 L152.30,37.48 L152.50,39.69 L152.70,41.87 L152.90,44.03 L153.10,46.17 L153.29,48.28 L153.49,50.36 L153.69,52.42 L153.89,54.46 L154.08,56.47 L154.28,58.46 L154.48,60.42 L154.68,62.37 L154.88,64.29 L155.07,66.19 L155.27,68.06 L155.47,69.92 L155.67,71.75 L155.86,73.56 L156.06,75.35 L156.26,77.13 L156.46,78.88 L156.65,80.61 L156.85,82.32 L157.05,84.01 L157.25,85.68 L157.45,87.34 L157.64,88.97 L157.84,90.59 L158.04,92.19 L158.24,93.77 L158.43,95.33 L158.63,96.88 L158.83,98.41 L159.03,99.92 L159.23,101.42 L159.42,102.89 L159.62,104.36 L159.82,105.80 L160.02,107.23 L160.21,108.64 L160.41,110.04 L160.61,111.43 L160.81,112.79 L161.01,114.15 L161.20,115.49 L161.40,116.81 L161.60,118.12 L161.80,119.41 L161.99,120.70 L162.19,121.96 L162.39,123.22 L162.59,124.46 L162.79,125.68 L162.98,126.90 L163.18,128.10 L163.38,129.29 L163.58,130.46 L163.77,131.62 L163.97,132.78 L164.17,133.91 L164.37,135.04 L164.56,136.15 L164.76,137.26 L164.96,138.35 L165.16,139.43 L165.36,140.49 L165.55,141.55 L165.75,142.60 L165.95,143.63 L166.15,144.66 L166.34,145.67 L166.54,146.67 L166.74,147.66 L166.94,148.65 L167.14,149.62 L167.33,150.58 L167.53,151.53 L167.73,152.47 L167.93,153.41 L168.12,154.33 L168.32,155.24 L168.52,156.15 L168.72,157.04 L168.92,157.93 L169.11,158.81 L169.31,159.67 L169.51,160.53 L169.71,161.38 L169.90,162.23 L170.10,163.06 L170.30,163.88 L170.50,164.70 L170.70,165.51 L170.89,166.31 L171.09,167.10 L171.29,167.89 L171.49,168.66 L171.68,169.43 L171.88,170.19 L172.08,170.95 L172.28,171.69 L172.48,172.43 L172.67,173.17 L172.87,173.89 L173.07,174.61 L173.27,175.32 L173.46,176.02 L173.66,176.72 L173.86,177.41 L174.06,178.09 L174.25,178.77 L174.45,179.44 L174.65,180.10 L174.85,180.76 L175.05,181.41 L175.24,182.05 L175.44,182.69 L175.64,183.32 L175.84,183.95 L176.03,184.57 L176.23,185.18 L176.43,185.79 L176.63,186.39 L176.83,186.99 L177.02,187.58 L177.22,188.17 L177.42,188.75 L177.62,189.32 L177.81,189.89 L178.01,190.45 L178.21,191.01 L178.41,191.57 L178.61,192.11 L178.80,192.66 L179.00,193.19 L179.20,193.73 L179.40,194.25 L179.59,194.78 L179.79,195.29 L179.99,195.81 L180.19,196.32 L180.39,196.82 L180.58,197.32 L180.78,197.81 L180.98,198.30 L181.18,198.79 L181.37,199.27 L181.57,199.75 L181.77,200.22 L181.97,200.69 L182.16,201.15 L182.36,201.61 L182.56,202.07 L182.76,202.52 L182.96,202.96 L183.15,203.41 L183.35,203.85 L183.55,204.28 L183.75,204.71 L183.94,205.14 L184.14,205.56 L184.34,205.98 L184.54,206.40 L184.74,206.81 L184.93,207.22 L185.13,207.63 L185.33,208.03 L185.53,208.42 L185.72,208.82 L185.92,209.21 L186.12,209.60 L186.32,209.98 L186.52,210.36 L186.71,210.74 L186.91,211.11 L187.11,211.48 L187.31,211.85 L187.50,212.22 L187.70,212.58 L187.90,212.94 L188.10,213.29 L188.30,213.64 L188.49,213.99 L188.69,214.34 L188.89,214.68 L189.09,215.02 L189.28,215.36 L189.48,215.69 L189.68,216.02 L189.88,216.35 L190.07,216.68 L190.27,217.00 L190.47,217.32 L190.67,217.64 L190.87,217.95 L191.06,218.26 L191.26,218.57 L191.46,218.88 L191.66,219.19 L191.85,219.49 L192.05,219.79 L192.25,220.08 L192.45,220.38 L192.65,220.67 L192.84,220.96 L193.04,221.25 L193.24,221.53 L193.44,221.81 L193.63,222.09 L193.83,222.37 L194.03,222.65 L194.23,222.92 L194.43,223.19 L194.62,223.46 L194.82,223.72 L195.02,223.99 L195.22,224.25 L195.41,224.51 L195.61,224.77 L195.81,225.02 L196.01,225.28 L196.21,225.53 L196.40,225.78 L196.60,226.03 L196.80,226.27 L197.00,226.52 L197.19,226.76 L197.39,227.00 L197.59,227.24 L197.79,227.47 L197.98,227.71 L198.18,227.94 L198.38,228.17 L198.58,228.40 L198.78,228.62 L198.97,228.85 L199.17,229.07 L199.37,229.29 L199.57,229.51 L199.76,229.73 L199.96,229.95 L200.16,230.16 L200.36,230.38 L200.56,230.59 L200.75,230.80 L200.95,231.00 L201.15,231.21 L201.35,231.42 L201.54,231.62 L201.74,231.82 L201.94,232.02 L203.77,233.80 L205.60,235.46 L207.43,237.01 L209.26,238.46 L211.09,239.82 L212.92,241.09 L214.75,242.28 L216.58,243.40 L218.42,244.45 L220.25,245.44 L222.08,246.37 L223.91,247.25 L225.74,248.08 L227.57,248.86 L229.40,249.60 L231.23,250.31 L233.06,250.97 L234.89,251.61 L236.72,252.21 L238.55,252.78 L240.38,253.33 L242.21,253.85 L244.04,254.35 L245.87,254.82 L247.70,255.28 L249.53,255.71 L251.37,256.13 L253.20,256.53 L255.03,256.92 L256.86,257.29 L258.69,257.65 L260.52,257.99 L262.35,258.33 L264.18,258.65 L266.01,258.96 L267.84,259.26 L269.67,259.55 L271.50,259.84 L273.33,260.11 L275.16,260.38 L276.99,260.64 L278.82,260.89 L280.65,261.13 L282.48,261.37 L284.32,261.61 L286.15,261.83 L287.98,262.06 L289.81,262.27 L291.64,262.49 L293.47,262.69 L295.30,262.90 L297.13,263.10 L298.96,263.29 L300.79,263.49 L302.62,263.67 L304.45,263.86 L306.28,264.04 L308.11,264.22 L309.94,264.40 L311.77,264.57 L313.60,264.74 L315.43,264.91 L317.27,265.07 L319.10,265.24 L320.93,265.40 L322.76,265.56 L324.59,265.71 L326.42,265.87 L328.25,266.02 L330.08,266.17 L331.91,266.32 L333.74,266.47 L335.57,266.61 L337.40,266.76 L339.23,266.90 L341.06,267.04 L342.89,267.18 L344.72,267.32 L346.55,267.45 L348.38,267.59 L350.22,267.72 L352.05,267.86 L353.88,267.99 L355.71,268.12 L357.54,268.25 L359.37,268.38 L361.20,268.50 L363.03,268.63 L364.86,268.75 L366.69,268.88 L368.52,269.00 L370.35,269.12 L372.18,269.24 L374.01,269.36 L375.84,269.48 L377.67,269.60 L379.50,269.71 L381.33,269.83 L383.17,269.95 L385.00,270.06 L386.83,270.17 L388.66,270.29 L390.49,270.40 L392.32,270.51 L394.15,270.62 L395.98,270.73 L397.81,270.84 L399.64,270.95 L401.47,271.05 L403.30,271.16 L405.13,271.27 L406.96,271.37 L408.79,271.48 L410.62,271.58 L412.45,271.69 L414.28,271.79 L416.12,271.89 L417.95,271.99 L419.78,272.09 L421.61,272.19 L423.44,272.29 L425.27,272.39 L427.10,272.49 L428.93,272.59 L430.76,272.69 L432.59,272.78 L434.42,272.88 L436.25,272.97 L438.08,273.07 L439.91,273.16 L441.74,273.26 L443.57,273.35 L445.40,273.44 L447.24,273.54 L449.07,273.63 L450.90,273.72 L452.73,273.81 L454.56,273.90 L456.39,273.99 L458.22,274.08 L460.05,274.17 L461.88,274.25 L463.71,274.34 L465.54,274.43 L467.37,274.52 L469.20,274.60 L471.03,274.69 L472.86,274.77 L474.69,274.86 L476.52,274.94 L478.35,275.03 L480.19,275.11 L482.02,275.19 L483.85,275.28 L485.68,275.36 L487.51,275.44 L489.34,275.52 L491.17,275.60 L493.00,275.68 L494.83,275.76 L496.66,275.84 L498.49,275.92 L500.32,276.00 L502.15,276.08 L503.98,276.16 L505.81,276.23 L507.64,276.31 L509.47,276.39 L511.30,276.46 L513.14,276.54 L514.97,276.62 L516.80,276.69 L518.63,276.77 L520.46,276.84 L522.29,276.91 L524.12,276.99 L525.95,277.06 L527.78,277.13 L529.61,277.21" fill="none" stroke="#8778B3" stroke-width="2.7" stroke-linejoin="round" stroke-dasharray="3.8 3.774"/>
<rect x="76.13" y="5.55" width="461.87" height="286.00" fill="none" stroke="#666666" stroke-width="1"/>
<path d="M85.24,291.55 v-2.8 M108.58,291.55 v-2.8 M131.92,291.55 v-2.8 M155.26,291.55 v-2.8 M178.60,291.55 v-4.7 M201.94,291.55 v-2.8 M225.28,291.55 v-2.8 M248.62,291.55 v-2.8 M271.96,291.55 v-2.8 M295.30,291.55 v-4.7 M318.64,291.55 v-2.8 M341.98,291.55 v-2.8 M365.32,291.55 v-2.8 M388.66,291.55 v-2.8 M412.00,291.55 v-4.7 M435.34,291.55 v-2.8 M458.68,291.55 v-2.8 M482.02,291.55 v-2.8 M505.36,291.55 v-2.8 M528.70,291.55 v-4.7 M76.13,280.05 h2.8 M76.13,268.25 h2.8 M76.13,256.45 h2.8 M76.13,244.65 h4.7 M76.13,232.85 h2.8 M76.13,221.05 h2.8 M76.13,209.25 h2.8 M76.13,197.45 h2.8 M76.13,185.65 h4.7 M76.13,173.85 h2.8 M76.13,162.05 h2.8 M76.13,150.25 h2.8 M76.13,138.45 h2.8 M76.13,126.65 h4.7 M76.13,114.85 h2.8 M76.13,103.05 h2.8 M76.13,91.25 h2.8 M76.13,79.45 h2.8 M76.13,67.65 h4.7 M76.13,55.85 h2.8 M76.13,44.05 h2.8 M76.13,32.25 h2.8 M76.13,20.45 h2.8 M76.13,8.65 h4.7" stroke="#666666" stroke-width="1" fill="none"/>
<path d="M85.24,5.55 v2.8 M108.58,5.55 v2.8 M131.92,5.55 v2.8 M155.26,5.55 v2.8 M178.60,5.55 v4.7 M201.94,5.55 v2.8 M225.28,5.55 v2.8 M248.62,5.55 v2.8 M271.96,5.55 v2.8 M295.30,5.55 v4.7 M318.64,5.55 v2.8 M341.98,5.55 v2.8 M365.32,5.55 v2.8 M388.66,5.55 v2.8 M412.00,5.55 v4.7 M435.34,5.55 v2.8 M458.68,5.55 v2.8 M482.02,5.55 v2.8 M505.36,5.55 v2.8 M528.70,5.55 v4.7 M538.0,280.05 h-2.8 M538.0,268.25 h-2.8 M538.0,256.45 h-2.8 M538.0,244.65 h-4.7 M538.0,232.85 h-2.8 M538.0,221.05 h-2.8 M538.0,209.25 h-2.8 M538.0,197.45 h-2.8 M538.0,185.65 h-4.7 M538.0,173.85 h-2.8 M538.0,162.05 h-2.8 M538.0,150.25 h-2.8 M538.0,138.45 h-2.8 M538.0,126.65 h-4.7 M538.0,114.85 h-2.8 M538.0,103.05 h-2.8 M538.0,91.25 h-2.8 M538.0,79.45 h-2.8 M538.0,67.65 h-4.7 M538.0,55.85 h-2.8 M538.0,44.05 h-2.8 M538.0,32.25 h-2.8 M538.0,20.45 h-2.8 M538.0,8.65 h-4.7" stroke="#666666" stroke-width="1" fill="none" opacity="0.3"/>
<text x="24.70" y="250.05" font-size="15.3" fill="#666666">0.0005</text>
<text x="24.70" y="191.05" font-size="15.3" fill="#666666">0.0010</text>
<text x="24.70" y="132.05" font-size="15.3" fill="#666666">0.0015</text>
<text x="24.70" y="73.05" font-size="15.3" fill="#666666">0.0020</text>
<text x="24.70" y="14.05" font-size="15.3" fill="#666666">0.0025</text>
<text x="174.55" y="310.45" font-size="15.3" fill="#666666">5</text>
<text x="286.99" y="310.45" font-size="15.3" fill="#666666">10</text>
<text x="403.69" y="310.45" font-size="15.3" fill="#666666">15</text>
<text x="520.39" y="310.45" font-size="15.3" fill="#666666">20</text>
<text x="303.57" y="335.90" font-size="15.3" fill="#666666">v</text>
<text transform="translate(13.8,148.5) rotate(-90)" font-size="15.3" fill="#666666" text-anchor="middle">P</text>
<path d="M382.3,21.25 H441.8" stroke="#5E81B5" stroke-width="2.7" fill="none" stroke-dasharray="8.71 3.405"/>
<path d="M382.3,51.5 H441.8" stroke="#000000" stroke-width="2.7" fill="none"/>
<path d="M382.3,81.8 H441.8" stroke="#0000FF" stroke-width="2.7" fill="none"/>
<path d="M382.3,112.1 H441.8" stroke="#FF0000" stroke-width="2.7" fill="none"/>
<path d="M382.3,142.4 H441.8" stroke="#8778B3" stroke-width="2.7" fill="none" stroke-dasharray="3.8 3.774"/>
<text transform="translate(0,27.00) scale(0.962,1)" font-size="18.5" fill="#000" stroke="#000" stroke-width="0.22"><tspan x="470.24" font-style="italic">δ</tspan><tspan x="480.64" dy="0.9">=</tspan><tspan x="491.84" dy="-0.9">0</tspan><tspan x="502.60">.</tspan><tspan x="508.99">0</tspan><tspan x="519.28">5</tspan></text>
<text transform="translate(0,57.32) scale(0.962,1)" font-size="18.5" fill="#000" stroke="#000" stroke-width="0.22"><tspan x="470.24" font-style="italic">δ</tspan><tspan x="480.64" dy="0.9">=</tspan><tspan x="491.84" dy="-0.9">0</tspan><tspan x="502.60">.</tspan><tspan x="508.21">1</tspan></text>
<text transform="translate(0,87.64) scale(0.962,1)" font-size="18.5" fill="#000" stroke="#000" stroke-width="0.22"><tspan x="470.24" font-style="italic">δ</tspan><tspan x="480.64" dy="0.9">=</tspan><tspan x="491.84" dy="-0.9">0</tspan><tspan x="502.60">.</tspan><tspan x="508.21">1</tspan><tspan x="518.40">5</tspan></text>
<text transform="translate(0,117.96) scale(0.962,1)" font-size="18.5" fill="#000" stroke="#000" stroke-width="0.22"><tspan x="470.24" font-style="italic">δ</tspan><tspan x="480.64" dy="0.9">=</tspan><tspan x="492.52" dy="-0.9" font-style="italic">δ</tspan><tspan x="503.95" dy="3.0" font-style="italic" font-size="13.1">c</tspan></text>
<text transform="translate(0,148.28) scale(0.962,1)" font-size="18.5" fill="#000" stroke="#000" stroke-width="0.22"><tspan x="470.24" font-style="italic">δ</tspan><tspan x="480.64" dy="0.9">=</tspan><tspan x="491.84" dy="-0.9">0</tspan><tspan x="502.60">.</tspan><tspan x="507.48">4</tspan></text>
<rect x="54.65" y="188.51" width="3.68" height="3.34" fill="#fff"/>
<rect x="59.68" y="188.51" width="3.56" height="3.34" fill="#fff"/>
<rect x="54.65" y="129.51" width="3.68" height="3.34" fill="#fff"/>
<rect x="59.68" y="129.51" width="3.56" height="3.34" fill="#fff"/>
<rect x="287.16" y="307.91" width="3.68" height="3.34" fill="#fff"/>
<rect x="292.19" y="307.91" width="3.56" height="3.34" fill="#fff"/>
<rect x="403.86" y="307.91" width="3.68" height="3.34" fill="#fff"/>
<rect x="408.89" y="307.91" width="3.56" height="3.34" fill="#fff"/>
<rect x="489.26" y="54.42" width="4.12" height="3.82" fill="#fff"/>
<rect x="494.95" y="54.42" width="3.98" height="3.82" fill="#fff"/>
<rect x="489.26" y="84.74" width="4.12" height="3.82" fill="#fff"/>
<rect x="494.95" y="84.74" width="3.98" height="3.82" fill="#fff"/>
</svg></body></html>
